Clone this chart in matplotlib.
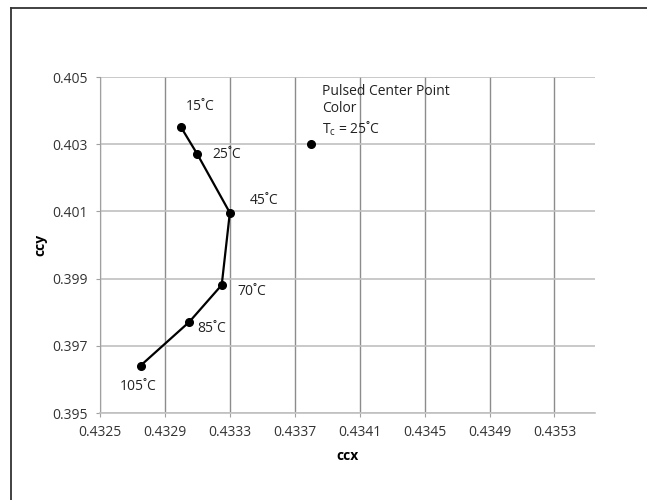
import matplotlib
matplotlib.use("Agg")
import matplotlib.pyplot as plt
from matplotlib.lines import Line2D

plt.rcParams['font.family'] = ['Open Sans', 'DejaVu Sans']
plt.rcParams['mathtext.default'] = 'regular'

# Data
temps = ["15˚C", "25˚C", "45˚C", "70˚C", "85˚C", "105˚C"]
ccx = [0.43300, 0.43310, 0.43330, 0.43325, 0.43305, 0.43275]
ccy = [0.40350, 0.40270, 0.40096, 0.39881, 0.39771, 0.39641]
pulsed_x = [0.4338]
pulsed_y = [0.4030]
pulsed_label = "Pulsed Center Point\nColor\nT$_c$ = 25˚C"
xticks = [0.4325, 0.4329, 0.4333, 0.4337, 0.4341, 0.4345, 0.4349, 0.4353]
xtick_labels = ["0.4325", "0.4329", "0.4333", "0.4337", "0.4341", "0.4345", "0.4349", "0.4353"]
yticks = [0.395, 0.397, 0.399, 0.401, 0.403, 0.405]
ytick_labels = ["0.395", "0.397", "0.399", "0.401", "0.403", "0.405"]

W, H = 647, 500
FS = 10
fig = plt.figure(figsize=(W / 100, H / 100), dpi=100)
ax = fig.add_axes([100 / W, 1 - 413 / H, (595 - 100) / W, (413 - 77) / H])

ax.set_xlim(0.4325, 0.43555)
ax.set_ylim(0.395, 0.405)
ax.set_xticks(xticks)
ax.set_xticklabels(xtick_labels)
ax.set_yticks(yticks)
ax.set_yticklabels(ytick_labels)

ax.xaxis.grid(True, color='#8c8c8c', linewidth=1.0)
ax.yaxis.grid(True, color='#c0c0c0', linewidth=1.2)
ax.set_axisbelow(True)
for s in ['top', 'right']:
    ax.spines[s].set_visible(False)
ax.spines['left'].set_color('#a0a0a0')
ax.spines['bottom'].set_color('#c0c0c0')
ax.spines['bottom'].set_linewidth(1.2)
ax.tick_params(axis='both', length=3, color='#a0a0a0', labelsize=FS,
               labelcolor='#333333')
ax.tick_params(axis='y', pad=6)
ax.tick_params(axis='x', pad=6)

ax.plot(ccx, ccy, color='black', linewidth=1.6, marker='o', markersize=5.5, zorder=3)
ax.plot(pulsed_x, pulsed_y, linestyle='none', color='black', marker='o', markersize=5.5, zorder=3)

offsets = [(3, 15), (11, 0), (14, 9), (11, -5), (6, -5), (-15, -15)]
for t, x, y, off in zip(temps, ccx, ccy, offsets):
    ax.annotate(t, (x, y), xytext=off, textcoords='offset points',
                ha='left', va='center', fontsize=FS, color='#222222')

ax.annotate(pulsed_label, (pulsed_x[0], pulsed_y[0]), xytext=(8, 24),
            textcoords='offset points', ha='left', va='center',
            fontsize=FS, color='#222222', linespacing=1.2)

ax.set_xlabel("ccx", fontweight='bold', fontsize=FS, labelpad=6)
ax.set_ylabel("ccy", fontweight='bold', fontsize=FS, labelpad=3)

# figure frame (top and left edges visible)
fig.add_artist(Line2D([11 / W, 11 / W], [0, 1 - 7.5 / H], transform=fig.transFigure,
                      color='#333333', linewidth=1.3))
fig.add_artist(Line2D([11 / W, 1], [1 - 7.5 / H, 1 - 7.5 / H], transform=fig.transFigure,
                      color='#333333', linewidth=1.3))

fig.savefig("out.png", dpi=100)
